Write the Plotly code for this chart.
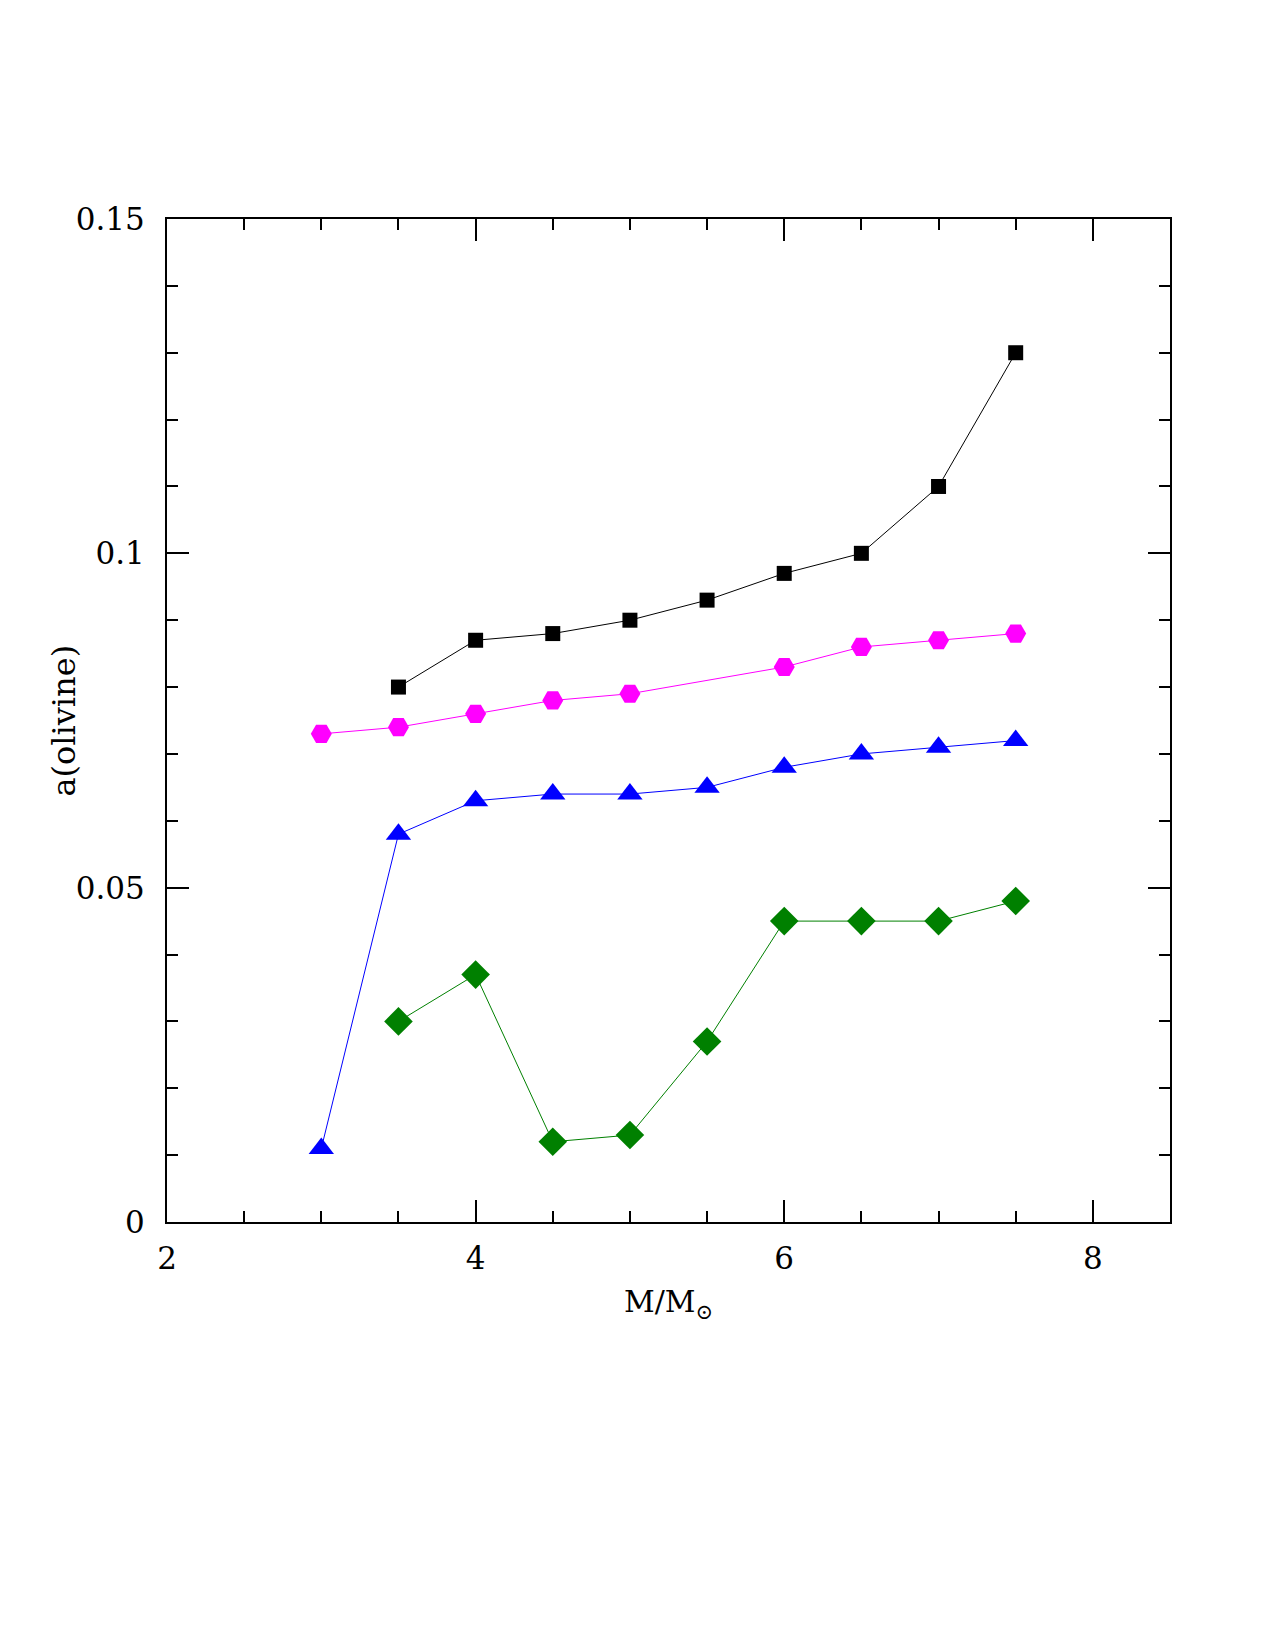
import plotly.graph_objects as go

x_black = [3.5, 4, 4.5, 5, 5.5, 6, 6.5, 7, 7.5]
y_black = [0.080, 0.087, 0.088, 0.090, 0.093, 0.097, 0.100, 0.110, 0.130]

x_magenta = [3, 3.5, 4, 4.5, 5, 6, 6.5, 7, 7.5]
y_magenta = [0.073, 0.074, 0.076, 0.078, 0.079, 0.083, 0.086, 0.087, 0.088]

x_blue = [3, 3.5, 4, 4.5, 5, 5.5, 6, 6.5, 7, 7.5]
y_blue = [0.011, 0.058, 0.063, 0.064, 0.064, 0.065, 0.068, 0.070, 0.071, 0.072]

x_green = [3.5, 4, 4.5, 5, 5.5, 6, 6.5, 7, 7.5]
y_green = [0.030, 0.037, 0.012, 0.013, 0.027, 0.045, 0.045, 0.045, 0.048]

x_ticks = [2, 4, 6, 8]
y_ticks = [0, 0.05, 0.1, 0.15]
y_ticklabels = ["0", "0.05", "0.1", "0.15"]

FONT = "DejaVu Serif"

fig = go.Figure()
series = [
    (x_black, y_black, "black", "square", 15),
    (x_magenta, y_magenta, "#ff00ff", "hexagon2", 21),
    (x_blue, y_blue, "#0000ff", "triangle-up", 22),
    (x_green, y_green, "#008000", "diamond", 22),
]
for xs, ys, col, sym, sz in series:
    fig.add_trace(go.Scatter(
        x=xs, y=ys, mode="lines+markers",
        line=dict(color=col, width=1),
        marker=dict(color=col, symbol=sym, size=sz, line=dict(width=0)),
        showlegend=False,
    ))

axis_common = dict(
    showgrid=False, zeroline=False, showline=True, linecolor="black", linewidth=2,
    mirror="allticks", ticks="inside", ticklen=22, tickwidth=1.5, tickcolor="black",
    tickfont=dict(family=FONT, size=31, color="black"),
)

fig.update_xaxes(
    range=[2, 8.5], tickvals=x_ticks, ticktext=[str(v) for v in x_ticks],
    ticklabelstandoff=8,
    minor=dict(dtick=0.5, tick0=2, ticks="inside", ticklen=11, tickwidth=1.5, tickcolor="black"),
    title=dict(text="M/M<sub>⊙</sub>", font=dict(family=FONT, size=30, color="black"), standoff=16),
    **axis_common,
)
fig.update_yaxes(
    range=[0, 0.15], tickvals=y_ticks, ticktext=y_ticklabels,
    ticklabelstandoff=14,
    minor=dict(dtick=0.01, tick0=0, ticks="inside", ticklen=11, tickwidth=1.5, tickcolor="black"),
    **axis_common,
)

plot_left, plot_w = 167, 1003
fig.add_annotation(
    text="a(olivine)", textangle=-90, showarrow=False,
    xref="paper", yref="paper", x=(63 - plot_left) / plot_w, y=0.5,
    xanchor="center", yanchor="middle",
    font=dict(family=FONT, size=32, color="black"),
)

fig.update_layout(
    width=1275, height=1650,
    margin=dict(l=167, r=105, t=219, b=428),
    paper_bgcolor="white", plot_bgcolor="white",
)

fig.write_html("out.html")
